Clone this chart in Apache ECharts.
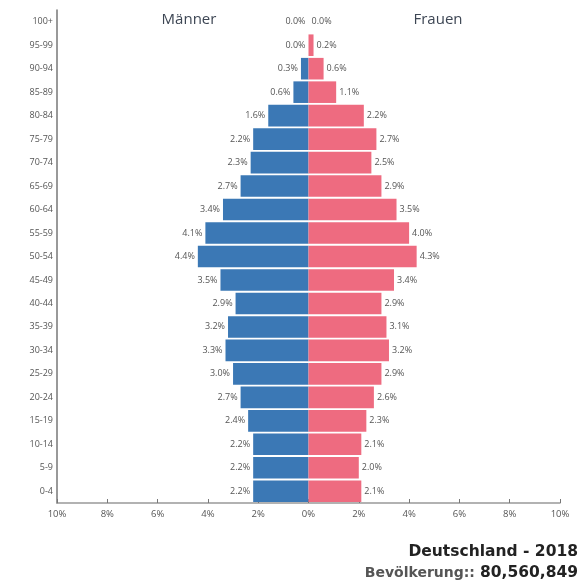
<!DOCTYPE html>
<html>
<head>
<meta charset="utf-8">
<script src="https://cdn.jsdelivr.net/npm/echarts@6/dist/echarts.min.js"></script>
<style>
  html, body { margin: 0; padding: 0; background: #fff; }
  #chart { width: 587px; height: 581px; }
</style>
</head>
<body>
<div id="chart"></div>
<script>
// age groups, bottom to top
const ageGroups = ['0-4', '5-9', '10-14', '15-19', '20-24', '25-29', '30-34', '35-39', '40-44', '45-49',
  '50-54', '55-59', '60-64', '65-69', '70-74', '75-79', '80-84', '85-89', '90-94', '95-99', '100+']
const maleShare = [2.2, 2.2, 2.2, 2.4, 2.7, 3.0, 3.3, 3.2, 2.9, 3.5, 4.4, 4.1, 3.4, 2.7, 2.3, 2.2, 1.6, 0.6, 0.3, 0.0, 0.0]
const femaleShare = [2.1, 2.0, 2.1, 2.3, 2.6, 2.9, 3.2, 3.1, 2.9, 3.4, 4.3, 4.0, 3.5, 2.9, 2.5, 2.7, 2.2, 1.1, 0.6, 0.2, 0.0]
const xTicks = [-10, -8, -6, -4, -2, 0, 2, 4, 6, 8, 10]

const textColor = '#3d4654'
const labelColor = '#555'

const chart = echarts.init(document.getElementById('chart'))
const option = {
  animation: false,
  title: [
    {
      text: 'Männer',
      left: 184, top: 7,
      textAlign: 'center',
      textStyle: { fontFamily: 'Open Sans', fontSize: 15, fontWeight: 'normal', color: textColor }
    },
    {
      text: 'Frauen',
      left: 433, top: 7,
      textAlign: 'center',
      textStyle: { fontFamily: 'Open Sans', fontSize: 15, fontWeight: 'normal', color: textColor }
    },
    {
      text: 'Deutschland - 2018',
      right: 4, top: 539,
      textStyle: { fontFamily: 'DejaVu Sans', fontSize: 15.5, fontWeight: 'bold', color: '#222' }
    },
    {
      text: '{n|Bevölkerung::} {b|80,560,849}',
      right: 4, top: 559,
      textStyle: {
        rich: {
          n: { fontFamily: 'DejaVu Sans', fontSize: 14, color: '#555' },
          b: { fontFamily: 'DejaVu Sans', fontSize: 15.5, fontWeight: 'bold', color: '#222' }
        }
      }
    }
  ],
  grid: { left: 57, right: 27, top: 10, bottom: 78 },
  xAxis: {
    type: 'value',
    min: -10, max: 10, interval: 2,
    axisLine: { show: true, lineStyle: { color: '#999', width: 1.5 } },
    axisTick: { show: true, inside: true, length: 4, lineStyle: { color: '#777' } },
    splitLine: { show: false },
    axisLabel: {
      color: labelColor, fontSize: 9.5, fontFamily: 'Open Sans', margin: 6,
      customValues: xTicks,
      formatter: v => Math.abs(v) + '%'
    }
  },
  yAxis: {
    type: 'category',
    data: ageGroups,
    axisLine: { show: true, onZero: false, lineStyle: { color: '#777', width: 1.5 } },
    axisTick: { show: false },
    axisLabel: { color: labelColor, fontSize: 9, fontFamily: 'Open Sans', margin: 4 }
  },
  series: [
    {
      name: 'Männer',
      type: 'bar',
      stack: 'pop',
      barCategoryGap: '8%',
      data: maleShare.map(v => -v),
      itemStyle: { color: '#3b78b5' },
      label: {
        show: true, position: 'left', distance: 3,
        color: labelColor, fontSize: 9, fontFamily: 'Open Sans',
        formatter: p => Math.abs(p.value).toFixed(1) + '%'
      }
    },
    {
      name: 'Frauen',
      type: 'bar',
      stack: 'pop',
      barCategoryGap: '8%',
      data: femaleShare,
      itemStyle: { color: '#ee6b80' },
      label: {
        show: true, position: 'right', distance: 3,
        color: labelColor, fontSize: 9, fontFamily: 'Open Sans',
        formatter: p => p.value.toFixed(1) + '%'
      }
    }
  ]
}
chart.setOption(option)
</script>
</body>
</html>
